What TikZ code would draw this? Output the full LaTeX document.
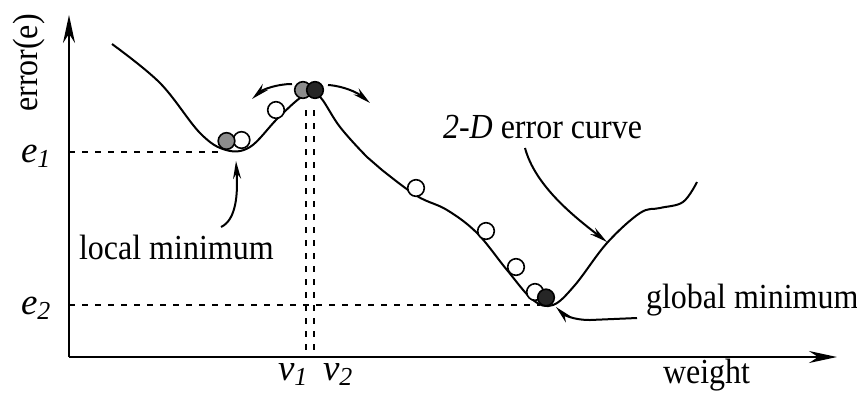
\documentclass[tikz,border=0pt]{standalone}
\usepackage{fontspec}
\setmainfont{Liberation Serif}
\usetikzlibrary{arrows.meta}

\begin{document}
\begin{tikzpicture}[x=0.5pt, y=-0.5pt, line width=1pt,
  ball/.style={circle, draw, line width=0.8pt, minimum size=8.3pt, inner sep=0pt, fill=white},
  grayball/.style={ball, fill=black!45},
  darkball/.style={ball, fill=black!85},
  lbl/.style={font=\fontsize{16}{19}\selectfont, inner sep=0pt},
  sym/.style={font=\fontsize{18.5}{21}\selectfont\itshape, inner sep=0pt, anchor=base west},
  guide/.style={line width=0.7pt, dash pattern=on 3pt off 3.5pt},
  axis/.style={-{Stealth[length=14pt,width=6pt]}},
  pointer/.style={-{Stealth[length=9pt,width=4pt]}}]
\useasboundingbox (0,0) rectangle (857,393);

% axes
\coordinate (o) at (69,357);
\coordinate (ytop) at (69,15);
\coordinate (xend) at (837,357);
\draw[axis] (o) -- (ytop);
\draw[axis] (o) -- (xend);
\node[lbl, rotate=90] (errlab) at (29,63) {\scalebox{1}[1.1]{error(e)}};
\node[lbl, anchor=base west] (wlab) at (662,383) {\scalebox{1}[1.1]{weight}};

% levels and weights
\coordinate (e1a) at (69,152);  \coordinate (e1b) at (220,152);
\coordinate (e2a) at (69,305);  \coordinate (e2b) at (540,305);
\coordinate (v1a) at (306,110); \coordinate (v1b) at (306,357);
\coordinate (v2a) at (314,110); \coordinate (v2b) at (314,357);
\draw[guide] (e1a) -- (e1b);
\draw[guide] (e2a) -- (e2b);
\draw[guide] (v1a) -- (v1b);
\draw[guide] (v2a) -- (v2b);
\node[sym] (e1) at (20,162) {e\textsubscript{1}};
\node[sym] (e2) at (20,314) {e\textsubscript{2}};
\node[sym] (v1) at (277,380) {v\textsubscript{1}};
\node[sym] (v2) at (322,380) {v\textsubscript{2}};

% error curve
\draw plot[smooth, tension=0.6] coordinates {(112,44) (160,83) (200,133) (226,150)
  (250,147) (277,119) (300,98) (311,95) (321,98) (340,127) (367,157) (382,170)
  (417,196) (447,210) (477,233) (507,270) (533,300) (553,305) (575,285) (607,243)
  (640,213) (660,208) (683,202) (697,182)};

% balls
\node[ball] (lw) at (241.5,140) {};
\node[grayball] (lg) at (226.5,141) {};
\node[ball] (rise) at (276,110) {};
\node[grayball] (tg) at (303,90) {};
\node[darkball] (td) at (315,90) {};
\node[ball] (d1) at (416,188) {};
\node[ball] (d2) at (486,231) {};
\node[ball] (d3) at (516,267) {};
\node[ball] (d4) at (535,292) {};
\node[darkball] (gball) at (546,297.5) {};

% labels and pointers
\node[lbl, anchor=base west] (curvelab) at (442,138) {\scalebox{1}[1.1]{\textit{2-D} error curve}};
\node[lbl, anchor=base west] (lminlab) at (78,259) {\scalebox{1}[1.1]{local minimum}};
\node[lbl, anchor=base west] (gminlab) at (645,308) {\scalebox{1}[1.1]{global minimum}};
\coordinate (ctail) at (525,148); \coordinate (ctip) at (607,242);
\coordinate (ltail) at (221,227); \coordinate (ltip) at (236,161);
\coordinate (gtail) at (637,318); \coordinate (gtip) at (556,307);
\coordinate (tla) at (292,84);  \coordinate (tlb) at (252,99);
\coordinate (tra) at (328,85);  \coordinate (trb) at (370,103);
\draw[pointer] (ctail) .. controls (535,185) and (572,215) .. (ctip);
\draw[pointer] (ltail) .. controls (236,220) and (238,195) .. (ltip);
\draw[pointer] (gtail) -- (590,320) .. controls (572,320) and (563,314) .. (gtip);
\draw[pointer] (tla) .. controls (276,84) and (262,90) .. (tlb);
\draw[pointer] (tra) .. controls (344,86) and (358,93) .. (trb);
\end{tikzpicture}
\end{document}
